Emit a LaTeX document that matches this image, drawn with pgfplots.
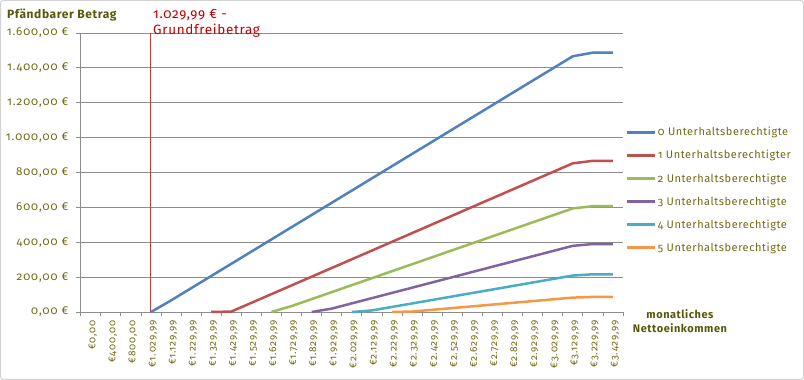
\documentclass[border=0pt]{standalone}
\usepackage{fontspec}
\setmainfont[Numbers=OldStyle]{Fira Sans}
\newfontfamily\tickfont[Numbers=OldStyle, LetterSpace=8]{Fira Sans}
\newfontfamily\legfont[Numbers=OldStyle, LetterSpace=5]{Fira Sans}
\usepackage{pgfplots}
\pgfplotsset{compat=1.18}
\definecolor{olivetxt}{RGB}{112,106,18}
\definecolor{oliveti}{RGB}{88,88,10}
\definecolor{annred}{RGB}{192,0,0}
\definecolor{grundline}{RGB}{200,60,60}
\definecolor{cBlue}{HTML}{4F81BD}
\definecolor{cRed}{HTML}{C0504D}
\definecolor{cGreen}{HTML}{9BBB59}
\definecolor{cPurple}{HTML}{8064A2}
\definecolor{cAqua}{HTML}{4BACC6}
\definecolor{cOrange}{HTML}{F79646}
\definecolor{gridg}{RGB}{140,140,140}
\begin{document}
\begin{tikzpicture}[x=1pt,y=1pt]
\useasboundingbox (0,0) rectangle (804,380);
\draw[gray!35, line width=1pt, rounded corners=3pt] (0.5,0.5) rectangle (803.5,379.5);
\begin{axis}[
  at={(80.7pt,68pt)}, anchor=south west,
  scale only axis, width=542.3pt, height=279pt,
  xmin=-0.5, xmax=26.5, ymin=0, ymax=1600,
  axis x line=bottom, axis y line=left,
  axis line style={-, draw=gridg, line width=0.9pt},
  xtick={0,...,26},
  xticklabels={{€0,00},{€400,00},{€800,00},{€1.029,99},{€1.129,99},{€1.229,99},{€1.329,99},{€1.429,99},{€1.529,99},{€1.629,99},{€1.729,99},{€1.829,99},{€1.929,99},{€2.029,99},{€2.129,99},{€2.229,99},{€2.329,99},{€2.429,99},{€2.529,99},{€2.629,99},{€2.729,99},{€2.829,99},{€2.929,99},{€3.029,99},{€3.129,99},{€3.229,99},{€3.429,99}},
  x tick label style={rotate=90, anchor=east, font=\tickfont\fontsize{10}{11}\selectfont, text=olivetxt, yshift=-2pt},
  xtick style={draw=none},
  minor xtick={-0.5,0.5,...,26.5},
  minor x tick style={draw=gridg, line width=0.8pt},
  minor tick length=4pt,
  ytick={0,200,...,1600},
  yticklabels={{0,00 €},{200,00 €},{400,00 €},{600,00 €},{800,00 €},{1.000,00 €},{1.200,00 €},{1.400,00 €},{1.600,00 €}},
  y tick label style={font=\tickfont\fontsize{11.5}{12}\selectfont, text=olivetxt, xshift=-4pt},
  ytick style={draw=gridg, line width=0.8pt},
  major tick length=5pt,
  tick align=outside,
  ymajorgrids, major grid style={draw=gridg, line width=0.8pt},
  legend style={at={(1.004,0.67)}, anchor=north west, draw=none, fill=none,
    font=\legfont\fontsize{11}{12}\selectfont, text=olivetxt, row sep=9pt, inner sep=0pt},
  legend cell align=left,
  legend image code/.code={\draw[#1, line width=2.5pt] (0pt,0pt) -- (28pt,0pt);},
  every axis plot/.append style={line width=2.5pt},
  clip=false,
]
\addplot[color=grundline, forget plot, line width=1pt] coordinates {(3,0) (3,1600)};
\addplot[cBlue] coordinates {(3,0)(4,66.5)(5,136.5)(6,206.5)(7,276.5)(8,346.5)(9,416.5)(10,486.5)(11,556.5)(12,626.5)(13,696.5)(14,766.5)(15,836.5)(16,906.5)(17,976.5)(18,1046.5)(19,1116.5)(20,1186.5)(21,1256.5)(22,1326.5)(23,1396.5)(24,1466.5)(25,1487.15)(26,1487.15)};
\addlegendentry{0 Unterhaltsberechtigte}
\addplot[cRed] coordinates {(6,0)(7,2.5)(8,52.5)(9,102.5)(10,152.5)(11,202.5)(12,252.5)(13,302.5)(14,352.5)(15,402.5)(16,452.5)(17,502.5)(18,552.5)(19,602.5)(20,652.5)(21,702.5)(22,752.5)(23,802.5)(24,852.5)(25,867.08)(26,867.08)};
\addlegendentry{1 Unterhaltsberechtigter}
\addplot[cGreen] coordinates {(9,0)(10,34)(11,74)(12,114)(13,154)(14,194)(15,234)(16,274)(17,314)(18,354)(19,394)(20,434)(21,474)(22,514)(23,554)(24,594)(25,606.66)(26,606.66)};
\addlegendentry{2 Unterhaltsberechtigte}
\addplot[cPurple] coordinates {(11,0)(12,19.5)(13,49.5)(14,79.5)(15,109.5)(16,139.5)(17,169.5)(18,199.5)(19,229.5)(20,259.5)(21,289.5)(22,319.5)(23,349.5)(24,379.5)(25,389.75)(26,389.75)};
\addlegendentry{3 Unterhaltsberechtigte}
\addplot[cAqua] coordinates {(13,0)(14,9)(15,29)(16,49)(17,69)(18,89)(19,109)(20,129)(21,149)(22,169)(23,189)(24,209)(25,216.33)(26,216.33)};
\addlegendentry{4 Unterhaltsberechtigte}
\addplot[cOrange] coordinates {(15,0)(16,2.5)(17,12.5)(18,22.5)(19,32.5)(20,42.5)(21,52.5)(22,62.5)(23,72.5)(24,82.5)(25,86.42)(26,86.42)};
\addlegendentry{5 Unterhaltsberechtigte}
\end{axis}
\node[anchor=west, font=\legfont\fontsize{12}{14}\selectfont\bfseries, text=oliveti, inner sep=0pt] at (7,365) {Pfändbarer Betrag};
\node[anchor=north west, align=left, font=\legfont\fontsize{13.5}{16}\selectfont, text=annred, inner sep=0pt] at (153,371) {1.029,99 € -\\Grundfreibetrag};
\node[align=center, font=\legfont\fontsize{11}{13.5}\selectfont\bfseries, text=oliveti, inner sep=0pt] at (680,59) {monatliches\\Nettoeinkommen};
\end{tikzpicture}
\end{document}
